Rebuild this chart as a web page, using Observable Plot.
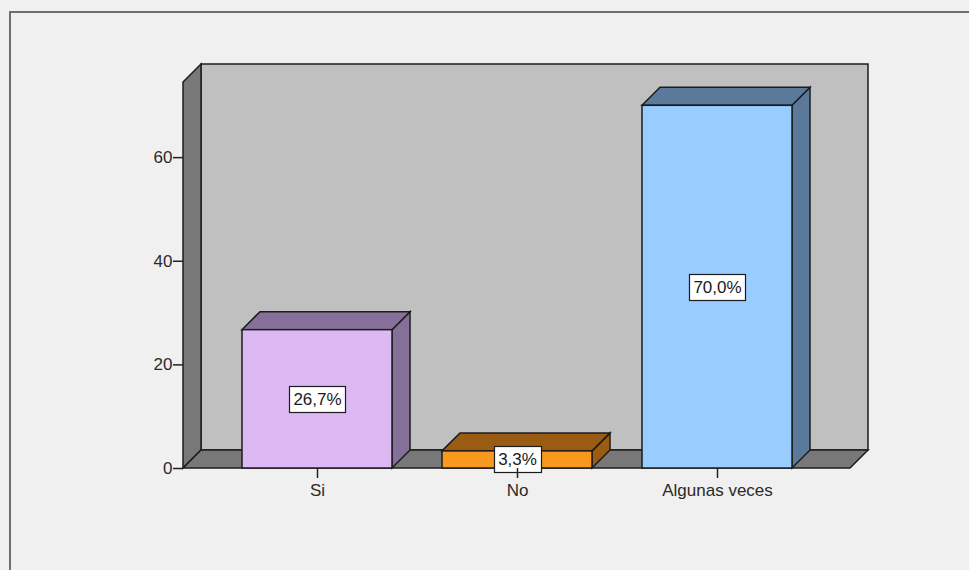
<!DOCTYPE html>
<html>
<head>
<meta charset="utf-8">
<script src="https://cdn.jsdelivr.net/npm/d3@7"></script>
<script src="https://cdn.jsdelivr.net/npm/@observablehq/plot@0.6"></script>
<style>
  html, body { margin: 0; padding: 0; background: #f0f0f0; }
  #wrap { position: relative; width: 969px; height: 570px; overflow: hidden; }
  #border { position: absolute; left: 9px; top: 11px; right: -10px; bottom: -10px;
            border-top: 2px solid #6f6f6f; border-left: 2px solid #6f6f6f; pointer-events: none; }
  #wrap svg { display: block; }
</style>
</head>
<body>
<div id="wrap"><div id="border"></div></div>
<script>
// Responses and their share of the total (%)
const categories = ["Si", "No", "Algunas veces"];
const percents = [26.7, 3.3, 70.0];
const labels = ["26,7%", "3,3%", "70,0%"];
const frontColors = ["#dcb9f2", "#f7991f", "#99ccff"];
const sideColors = ["#85709a", "#995c12", "#5b7a9b"];
const yTicks = [0, 20, 40, 60];

const rows = categories.map((c, i) => ({
  category: c, value: percents[i], label: labels[i], front: frontColors[i], side: sideColors[i]
}));

const DEPTH = 18;            // pixel depth of the 3-D box
const EDGE = "#1c1c1c";
const FONT = "'Liberation Sans', Arial, sans-serif";
const FONT_SIZE = 17;

const SVGNS = "http://www.w3.org/2000/svg";
function svgEl(name, attrs) {
  const el = document.createElementNS(SVGNS, name);
  for (const k in attrs) el.setAttribute(k, attrs[k]);
  return el;
}
function poly(points) { return "M" + points.map(p => p.join(",")).join("L") + "Z"; }

// Back wall, left wall and floor of the chart box
function walls(index, scales, values, dims) {
  const g = svgEl("g", {stroke: EDGE, "stroke-width": 1.5, "stroke-linejoin": "miter"});
  const d = DEPTH;
  const x0 = dims.marginLeft, x1 = dims.width - dims.marginRight;
  const yT = dims.marginTop, y0 = scales.y(0);
  g.appendChild(svgEl("path", {fill: "#c0c0c0", d: poly([[x0 + d, yT - d], [x1 + d, yT - d], [x1 + d, y0 - d], [x0 + d, y0 - d]])}));
  g.appendChild(svgEl("path", {fill: "#787878", d: poly([[x0, y0], [x0, yT], [x0 + d, yT - d], [x0 + d, y0 - d]])}));
  g.appendChild(svgEl("path", {fill: "#787878", d: poly([[x0, y0], [x0 + d, y0 - d], [x1 + d, y0 - d], [x1, y0]])}));
  return g;
}

// Top and right faces of each bar
function barDepth(index, scales, values, dims) {
  const g = svgEl("g", {stroke: EDGE, "stroke-width": 1.5, "stroke-linejoin": "miter"});
  const d = DEPTH;
  const bw = scales.x.bandwidth();
  const y0 = scales.y(0);
  for (const r of rows) {
    const xa = scales.x(r.category), xb = xa + bw, y1 = scales.y(r.value);
    g.appendChild(svgEl("path", {fill: r.side, d: poly([[xb, y1], [xb + d, y1 - d], [xb + d, y0 - d], [xb, y0]])}));
    g.appendChild(svgEl("path", {fill: r.side, d: poly([[xa, y1], [xa + d, y1 - d], [xb + d, y1 - d], [xb, y1]])}));
  }
  return g;
}

// White boxes behind the value labels, sized to the text
const measureCtx = document.createElement("canvas").getContext("2d");
measureCtx.font = FONT_SIZE + "px " + FONT;
function labelBoxes(index, scales, values, dims) {
  const g = svgEl("g", {fill: "#ffffff", stroke: EDGE, "stroke-width": 1.2});
  const bw = scales.x.bandwidth();
  for (const r of rows) {
    const cx = scales.x(r.category) + bw / 2, cy = scales.y(r.value / 2);
    const w = Math.round(measureCtx.measureText(r.label).width + 8), h = 26;
    g.appendChild(svgEl("rect", {x: Math.round(cx - w / 2) + 0.5, y: Math.round(cy - h / 2) + 0.5, width: w, height: h}));
  }
  return g;
}

const chart = Plot.plot({
  width: 969,
  height: 570,
  marginLeft: 183,
  marginRight: 119,
  marginTop: 82,
  marginBottom: 102,
  style: {fontFamily: FONT, background: "#f0f0f0", color: "#222"},
  x: {type: "band", domain: categories, paddingInner: 0.25, paddingOuter: 0.2925, label: null},
  y: {domain: [0, 74.5], label: null},
  color: {type: "identity"},
  marks: [
    walls,
    barDepth,
    Plot.barY(rows, {x: "category", y: "value", fill: "front", stroke: EDGE, strokeWidth: 1.5, inset: 0}),
    labelBoxes,
    Plot.text(rows, {x: "category", y: d => d.value / 2, text: "label", fontSize: FONT_SIZE, fill: "#1a1a1a"}),
    Plot.axisY({ticks: yTicks, tickSize: 10, tickPadding: 1, fontSize: FONT_SIZE, stroke: "#222", fill: "#2a2a2a", strokeWidth: 1.5, label: null}),
    Plot.axisX({tickSize: 10, tickPadding: 5, fontSize: FONT_SIZE, stroke: "#222", fill: "#2a2a2a", strokeWidth: 1.5, label: null})
  ]
});

document.getElementById("wrap").insertBefore(chart, document.getElementById("border"));
</script>
</body>
</html>
